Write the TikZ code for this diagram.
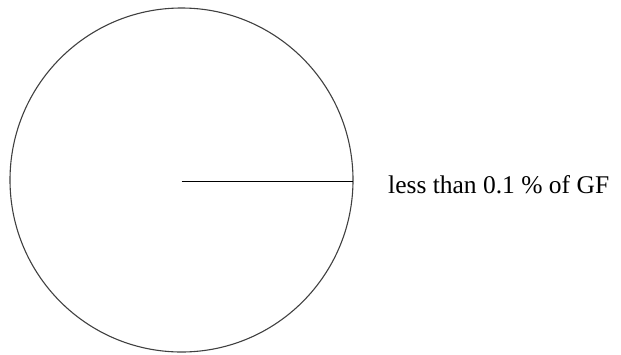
\documentclass[tikz,border=0pt]{standalone}
\usepackage{fontspec}
\setmainfont{Liberation Serif}
\begin{document}
\begin{tikzpicture}[x=1pt,y=-1pt,
  ring/.style={draw=black!75,line width=1.1pt},
  radius line/.style={draw=black,line width=1.4pt},
  lbl/.style={anchor=base west,inner sep=0pt,font=\fontsize{25.5}{30}\selectfont}]
\useasboundingbox (0,0) rectangle (621,354);
\coordinate (c) at (181.5,181.5);
\draw[ring] (181.5,180) ellipse [x radius=171.5, y radius=172];
\coordinate (e) at (353,181.5);
\draw[radius line] (c) -- (e);
\node[lbl] (t) at (388,193) {less than 0.1 \% of GF};
\end{tikzpicture}
\end{document}
